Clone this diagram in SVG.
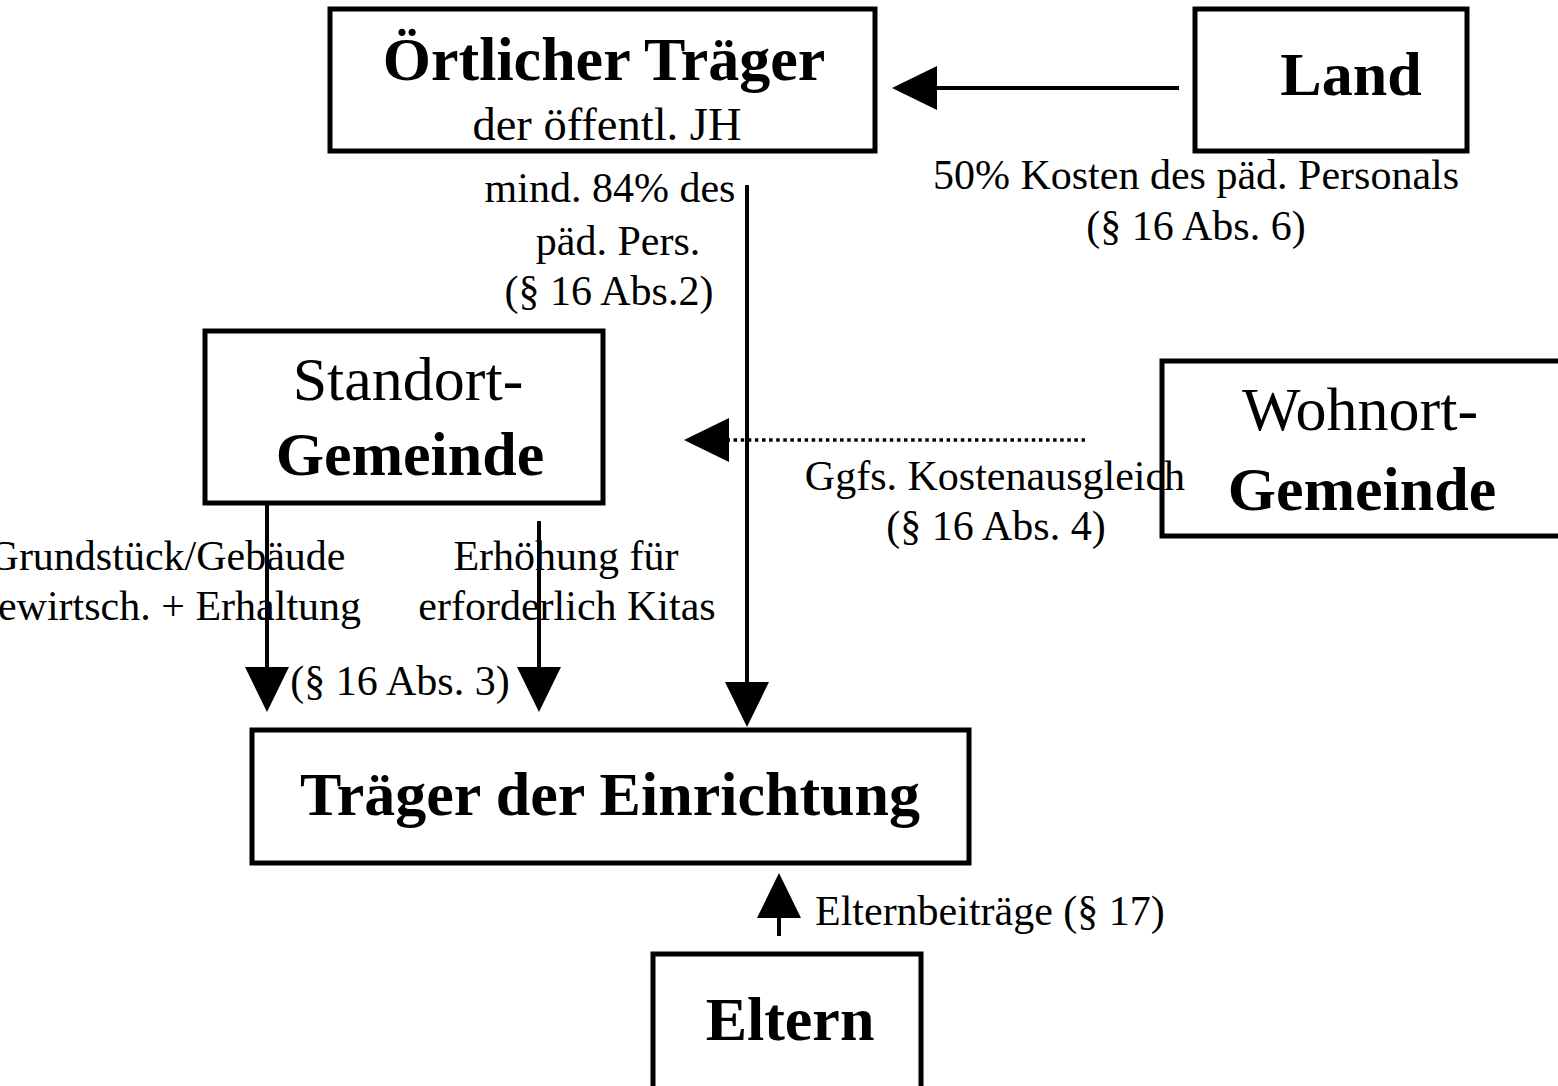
<svg xmlns="http://www.w3.org/2000/svg" width="1558" height="1086" viewBox="0 0 1558 1086">
<style>
.box{fill:#fff;stroke:#000;stroke-width:5}
.t{font-family:"Liberation Serif","Times New Roman",serif;fill:#000;text-anchor:middle}
.b{font-weight:bold;font-size:62px}
.r{font-size:62px}
.s{font-size:46.5px}
.l{font-size:42px}
.c{stroke:#000;stroke-width:4;fill:none}
.d{stroke:#000;stroke-width:3.5;fill:none;stroke-dasharray:3.5 3.6}
</style>
<defs>
<marker id="ah" viewBox="0 0 45 44" refX="0" refY="22" markerWidth="45" markerHeight="44" markerUnits="userSpaceOnUse" orient="auto">
<path d="M0,0 L45,22 L0,44 Z" fill="#000"/>
</marker>
</defs>
<rect width="1558" height="1086" fill="#fff"/>
<g id="oertlicher">
<rect class="box" x="330" y="9" width="545" height="142"/>
<text class="t b" x="604" y="80">Örtlicher Träger</text>
<text class="t s" x="607" y="140">der öffentl. JH</text>
</g>
<g id="land">
<rect class="box" x="1195" y="9" width="272" height="142"/>
<text class="t b" x="1351" y="95">Land</text>
</g>
<g id="standort">
<rect class="box" x="205" y="331" width="398" height="172"/>
<text class="t r" x="408" y="400">Standort-</text>
<text class="t b" x="410" y="475">Gemeinde</text>
</g>
<g id="wohnort">
<rect class="box" x="1162" y="361" width="420" height="175"/>
<text class="t r" x="1360" y="430">Wohnort-</text>
<text class="t b" x="1362" y="510">Gemeinde</text>
</g>
<g id="traeger">
<rect class="box" x="252" y="730" width="717" height="133"/>
<text class="t b" x="610" y="815">Träger der Einrichtung</text>
</g>
<g id="eltern">
<rect class="box" x="653" y="954" width="268" height="200"/>
<text class="t b" x="790" y="1040">Eltern</text>
</g>
<g id="connectors">
<line class="c" x1="1179" y1="88" x2="937" y2="88" marker-end="url(#ah)"/>
<line class="c" x1="747" y1="185" x2="747" y2="682" marker-end="url(#ah)"/>
<line class="d" x1="1085" y1="440" x2="729" y2="440" marker-end="url(#ah)"/>
<line class="c" x1="267" y1="503" x2="267" y2="667" marker-end="url(#ah)"/>
<line class="c" x1="539" y1="521" x2="539" y2="667" marker-end="url(#ah)"/>
<line class="c" x1="779" y1="936" x2="779" y2="918" marker-end="url(#ah)"/>
</g>
<g id="labels">
<text class="t l" x="1196" y="189">50% Kosten des päd. Personals</text>
<text class="t l" x="1196" y="240">(§ 16 Abs. 6)</text>
<text class="t l" x="610" y="202">mind. 84% des</text>
<text class="t l" x="618" y="255">päd. Pers.</text>
<text class="t l" x="609" y="305">(§ 16 Abs.2)</text>
<text class="t l" x="995" y="490">Ggfs. Kostenausgleich</text>
<text class="t l" x="996" y="540">(§ 16 Abs. 4)</text>
<text class="t l" x="167" y="570">Grundstück/Gebäude</text>
<text class="t l" x="169" y="620">bewirtsch. + Erhaltung</text>
<text class="t l" x="400" y="695">(§ 16 Abs. 3)</text>
<text class="t l" x="566" y="570">Erhöhung für</text>
<text class="t l" x="567" y="620">erforderlich Kitas</text>
<text class="t l" x="815" y="925" style="text-anchor:start">Elternbeiträge (§ 17)</text>
</g>
</svg>
